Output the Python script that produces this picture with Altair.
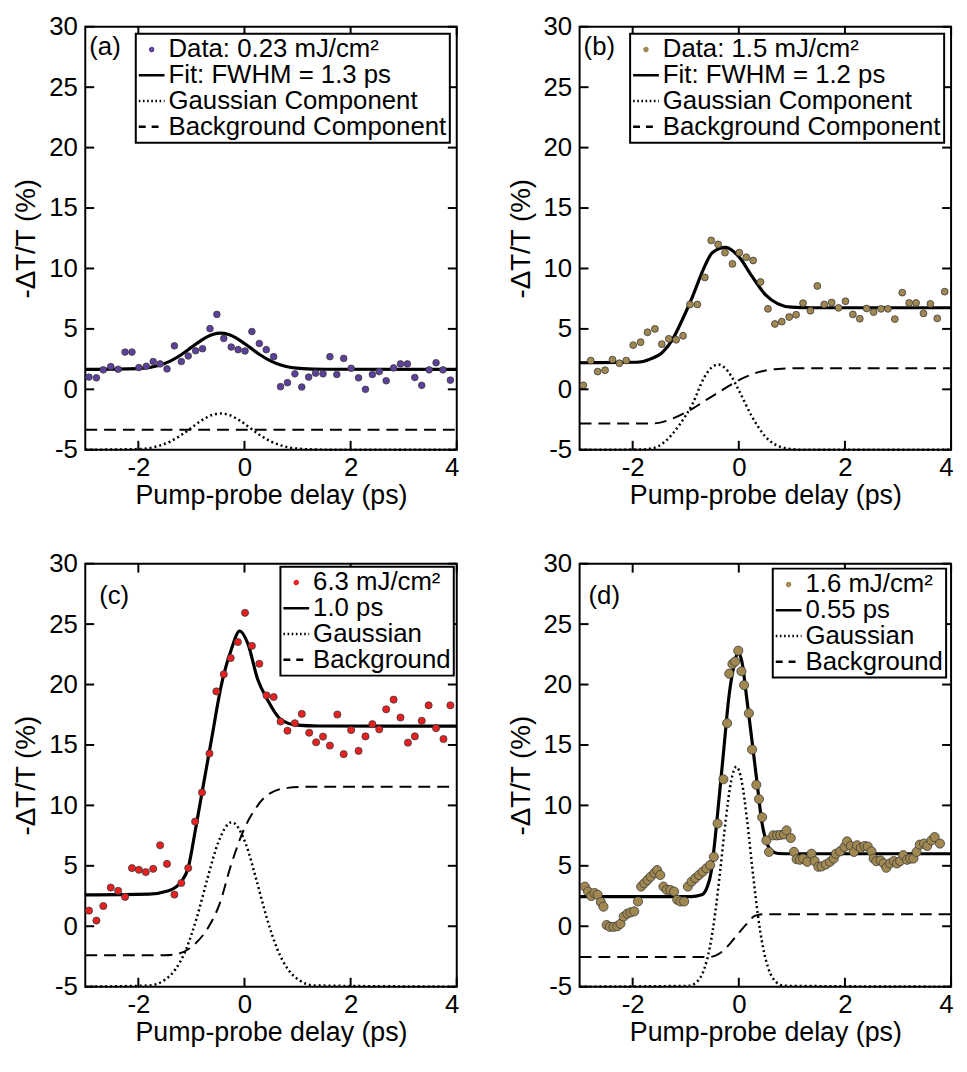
import altair as alt
import pandas as pd

FONT = "Liberation Sans"

# ---------------- panel (a) ----------------
a_x = [-2.93, -2.79, -2.66, -2.52, -2.38, -2.25, -2.12, -1.99, -1.85, -1.72, -1.59, -1.46, -1.32,
       -1.19, -1.06, -0.92, -0.79, -0.65, -0.52, -0.39, -0.25, -0.12, 0.01, 0.14, 0.28, 0.41,
       0.55, 0.68, 0.81, 0.95, 1.08, 1.21, 1.34, 1.48, 1.61, 1.74, 1.87, 2.01, 2.15, 2.28,
       2.41, 2.54, 2.67, 2.81, 2.94, 3.07, 3.21, 3.34, 3.48, 3.61, 3.74, 3.88]
a_y = [1.01, 0.95, 1.61, 1.88, 1.66, 3.08, 3.08, 1.80, 1.91, 2.30, 2.10, 1.69, 3.60,
       2.30, 2.76, 3.19, 3.36, 5.02, 6.20, 4.21, 3.50, 3.28, 3.17, 4.78, 3.79, 3.28,
       2.70, 0.22, 0.55, 1.28, 0.19, 1.01, 1.34, 1.28, 2.70, 1.23, 2.56, 1.74, 0.95, 0.00,
       1.23, 1.47, 0.71, 1.77, 2.10, 2.10, 0.98, 0.33, 1.61, 2.20, 1.61, 0.76]
a_curve_x = [-3, -2.0, -1.6, -1.4, -1.2, -1.0, -0.8, -0.6, -0.45, -0.3, -0.1, 0.1, 0.3, 0.5, 0.7, 1.1, 1.5, 4]
a_fit_y = [1.65, 1.71, 1.99, 2.33, 2.84, 3.47, 4.10, 4.54, 4.65, 4.54, 4.10, 3.47, 2.84, 2.33, 1.99, 1.71, 1.66, 1.65]
a_gauss_y = [-5, -4.94, -4.66, -4.32, -3.81, -3.18, -2.55, -2.11, -2.0, -2.11, -2.55, -3.18, -3.81, -4.32,
             -4.66, -4.94, -4.99, -5]
a_bg_x = [-3, 4]
a_bg_y = [-3.35, -3.35]
a_names = ["Data: 0.23 mJ/cm²", "Fit: FWHM = 1.3 ps", "Gaussian Component", "Background Component"]

# ---------------- panel (b) ----------------
b_x = [-2.93, -2.79, -2.66, -2.52, -2.38, -2.25, -2.12, -1.99, -1.85, -1.72, -1.58, -1.45, -1.32,
       -1.18, -1.05, -0.92, -0.78, -0.64, -0.52, -0.39, -0.26, -0.12, 0.01, 0.14, 0.27, 0.41,
       0.55, 0.68, 0.81, 0.95, 1.08, 1.21, 1.35, 1.48, 1.61, 1.75, 1.88, 2.01, 2.15, 2.28,
       2.41, 2.54, 2.68, 2.81, 2.94, 3.08, 3.21, 3.34, 3.48, 3.61, 3.74, 3.88]
b_y = [0.33, 2.38, 1.47, 1.58, 2.46, 2.16, 2.38, 3.66, 3.90, 4.72, 5.00, 3.74, 4.18,
       4.10, 4.43, 7.02, 7.02, 9.26, 12.32, 11.99, 11.31, 10.38, 11.31, 10.93, 10.66, 8.88,
       6.66, 5.41, 5.60, 5.98, 6.17, 7.13, 6.50, 8.55, 7.02, 7.18, 6.74, 7.29, 6.20, 5.84,
       6.69, 6.39, 6.66, 6.66, 5.81, 8.00, 7.15, 7.15, 6.28, 7.07, 5.87, 8.08]
b_fit_x = [-3, -1.92, -1.67, -1.43, -1.24, -1.06, -0.87, -0.68, -0.50, -0.25, 0.0, 0.25, 0.5, 0.74, 0.99, 1.4, 4]
b_fit_y = [2.2, 2.24, 2.5, 3.1, 4.2, 5.8, 7.7, 9.8, 11.3, 11.75, 10.98, 9.34, 7.84, 7.07, 6.8, 6.75, 6.75]
b_gauss_x = [-3, -1.86, -1.6, -1.43, -1.12, -0.87, -0.65, -0.52, -0.39, -0.26, -0.15, 0.0, 0.25, 0.5, 0.87, 1.2, 4]
b_gauss_y = [-5, -4.98, -4.85, -4.46, -2.95, -1.18, 1.0, 1.77, 2.05, 1.77, 1.15, -0.08, -2.27, -3.9, -4.86, -5, -5]
b_bg_x = [-3, -1.61, -1.24, -0.87, -0.62, -0.37, -0.12, 0.12, 0.37, 0.74, 1.24, 4]
b_bg_y = [-2.82, -2.82, -2.41, -1.59, -0.9, -0.22, 0.46, 1.01, 1.42, 1.69, 1.75, 1.75]
b_names = ["Data: 1.5 mJ/cm²", "Fit: FWHM = 1.2 ps", "Gaussian Component", "Background Component"]

# ---------------- panel (c) ----------------
c_x = [-2.93, -2.79, -2.66, -2.52, -2.38, -2.25, -2.12, -1.99, -1.86, -1.72, -1.59, -1.46, -1.32,
       -1.19, -1.06, -0.93, -0.80, -0.66, -0.53, -0.39, -0.26, -0.125, 0.01, 0.14, 0.28, 0.415,
       0.55, 0.68, 0.81, 0.95, 1.08, 1.22, 1.35, 1.48, 1.61, 1.75, 1.87, 2.01, 2.15, 2.28,
       2.41, 2.54, 2.67, 2.81, 2.94, 3.08, 3.21, 3.34, 3.47, 3.61, 3.75, 3.88]
c_y = [1.29, 0.47, 1.67, 3.20, 2.93, 2.43, 4.81, 4.67, 4.48, 4.75, 6.70, 5.16, 2.62,
       3.58, 4.81, 8.66, 11.07, 14.29, 19.43, 20.85, 22.19, 23.52, 25.93, 23.20, 21.72, 19.10,
       18.97, 16.94, 16.18, 16.80, 17.57, 16.01, 15.22, 15.69, 14.95, 17.52, 14.24, 16.23, 14.51, 15.71,
       16.72, 16.29, 17.95, 18.75, 17.27, 15.19, 15.71, 17.00, 18.28, 16.39, 15.49, 18.28]
c_fit_x = [-3, -1.8, -1.43, -1.18, -1.06, -0.93, -0.80, -0.62, -0.44, -0.25, -0.09, 0.06, 0.25, 0.43, 0.68, 0.99, 1.4, 4]
c_fit_y = [2.6, 2.66, 2.93, 3.75, 4.84, 7.84, 11.07, 15.49, 19.87, 22.87, 24.43, 23.42, 20.41, 18.77, 17.13,
           16.64, 16.57, 16.56]
c_gauss_x = [-3, -1.8, -1.5, -1.3, -1.1, -0.9, -0.7, -0.5, -0.24, 0.02, 0.22, 0.42, 0.62, 0.82, 1.02, 1.32, 4]
c_gauss_y = [-5, -4.9, -4.43, -3.56, -1.9, 0.69, 3.91, 6.87, 8.6, 6.87, 3.91, 0.69, -1.9, -3.56, -4.43, -4.9, -5]
c_bg_x = [-3, -1.5, -1.24, -0.93, -0.68, -0.47, -0.25, 0, 0.19, 0.43, 0.81, 1.3, 4]
c_bg_y = [-2.4, -2.4, -2.26, -1.45, -0.08, 1.83, 5.11, 8.11, 9.62, 10.85, 11.45, 11.55, 11.55]
c_names = ["6.3 mJ/cm²", "1.0 ps", "Gaussian", "Background"]

# ---------------- panel (d) ----------------
d_x = [-2.90, -2.84, -2.78, -2.72, -2.66, -2.60, -2.55, -2.49, -2.43, -2.36, -2.29, -2.23, -2.17,
       -2.10, -2.04, -1.97, -1.90, -1.84, -1.78, -1.72, -1.66, -1.59, -1.54, -1.48, -1.42, -1.36,
       -1.29, -1.22, -1.16, -1.10, -1.03, -0.96, -0.89, -0.82, -0.75, -0.68, -0.61, -0.54, -0.47,
       -0.40, -0.29, -0.22, -0.18, -0.12, -0.07, -0.01, 0.05, 0.10, 0.19, 0.25, 0.33, 0.38, 0.44,
       0.52, 0.57, 0.65, 0.72, 0.78, 0.85, 0.90, 0.98, 1.04, 1.09, 1.15, 1.21, 1.29, 1.37, 1.43,
       1.50, 1.56, 1.64, 1.72, 1.79, 1.83, 1.91, 1.99, 2.04, 2.11, 2.17, 2.23, 2.30, 2.37, 2.43,
       2.50, 2.54, 2.59, 2.67, 2.73, 2.78, 2.85, 2.92, 2.98, 3.04, 3.10, 3.17, 3.23, 3.29, 3.35,
       3.41, 3.49, 3.55, 3.63, 3.69, 3.79]
d_y = [3.28, 2.87, 2.50, 2.75, 2.60, 2.00, 1.62, 0.10, -0.05, -0.05, 0.00, 0.20, 0.80,
       1.04, 1.15, 1.23, 2.05, 3.28, 3.56, 3.83, 4.10, 4.40, 4.65, 4.24, 3.28, 3.01,
       3.00, 2.87, 2.19, 2.05, 2.05, 3.28, 3.69, 3.97, 4.24, 4.51, 4.79, 5.06, 5.74,
       8.50, 12.16, 16.80, 20.90, 21.70, 21.90, 22.80, 21.10, 19.95, 17.62, 14.62, 11.70, 10.52, 9.02,
       7.10, 6.15, 7.52, 7.52, 7.55, 7.60, 7.93, 7.30, 6.15, 5.55, 5.50, 5.60, 5.33, 6.00, 5.39,
       4.92, 4.95, 5.11, 5.33, 5.60, 6.00, 6.20, 6.56, 7.02, 6.64, 6.15, 6.70, 6.48, 6.64, 6.60,
       6.20, 5.60, 5.39, 5.45, 5.20, 4.84, 5.20, 5.39, 5.20, 5.39, 5.88, 5.50, 5.60, 5.60, 6.15,
       6.75, 6.84, 6.64, 7.10, 7.38, 6.84]
d_fit_x = [-3, -0.9, -0.7, -0.6, -0.52, -0.47, -0.37, -0.28, -0.19, -0.09, -0.01, 0.06, 0.15, 0.25, 0.34,
           0.43, 0.53, 0.62, 0.74, 1.0, 4]
d_fit_y = [2.45, 2.45, 2.6, 3.2, 4.5, 6.3, 10.66, 14.75, 18.85, 21.59, 22.62, 21.86, 18.85, 15.3, 12.02,
           8.75, 6.84, 6.25, 6.02, 6.0, 6.0]
d_gauss_x = [-3, -0.945, -0.795, -0.645, -0.545, -0.445, -0.345, -0.245, -0.145, -0.045, 0.055, 0.155,
             0.255, 0.355, 0.455, 0.555, 0.705, 0.855, 4]
d_gauss_y = [-5, -4.93, -4.62, -3.46, -1.72, 1.08, 4.81, 8.83, 12.0, 13.2, 12.0, 8.83, 4.81, 1.08, -1.72,
             -3.46, -4.62, -4.93, -5]
d_bg_x = [-3, -0.6, -0.45, -0.3, -0.15, 0, 0.15, 0.3, 0.45, 4]
d_bg_y = [-2.55, -2.55, -2.45, -2.05, -1.35, -0.55, 0.2, 0.85, 1.0, 1.0]
d_names = ["1.6 mJ/cm²", "0.55 ps", "Gaussian", "Background"]

x_ticks = [-2, 0, 2, 4]
y_ticks = [-5, 0, 5, 10, 15, 20, 25, 30]

# ---------------- styling / layout ----------------
W, H = 375, 427
TK = 9
XS = alt.Scale(domain=[-3, 4], nice=False, zero=False)
YS = alt.Scale(domain=[-5, 30], nice=False, zero=False)

DOT = "M0.15,0A0.15,0.15,0,1,1,-0.15,0A0.15,0.15,0,1,1,0.15,0Z"
SEG = "M-1.3,0L1.3,0"

AX = alt.Axis(orient="bottom", values=x_ticks, title="Pump-probe delay (ps)", ticks=False,
              domain=False, grid=False, labelExpr="'' + datum.value", labelFlush=True,
              labelFlushOffset=2, labelPadding=5, titlePadding=2, titleFontSize=27)
AY = alt.Axis(orient="left", values=y_ticks, title="-ΔT/T (%)", ticks=False, domain=False,
              grid=False, labelExpr="'' + datum.value", labelPadding=8, titlePadding=8)


def X(field="x"):
    return alt.X(field + ":Q", scale=XS, axis=AX)


def Y(field="y"):
    return alt.Y(field + ":Q", scale=YS, axis=AY)


def curve(xv, yv, width, dash):
    df = pd.DataFrame({"x": xv, "y": yv})
    kw = dict(color="black", strokeWidth=width, interpolate="monotone")
    if dash:
        kw["strokeDash"] = dash
    return alt.Chart(df).mark_line(**kw).encode(x=X(), y=Y())


def tick_layers():
    xt = pd.DataFrame({"x": x_ticks})
    yt = pd.DataFrame({"y": y_ticks})
    rk = dict(color="black", strokeWidth=2)
    bottom = alt.Chart(xt).mark_rule(**rk).encode(x=X(), y=alt.value(H), y2=alt.value(H - TK))
    top = alt.Chart(xt).mark_rule(**rk).encode(x=X(), y=alt.value(0), y2=alt.value(TK))
    left = alt.Chart(yt).mark_rule(**rk).encode(y=Y(), x=alt.value(0), x2=alt.value(TK))
    right = alt.Chart(yt).mark_rule(**rk).encode(y=Y(), x=alt.value(W), x2=alt.value(W - TK))
    return [bottom, top, left, right]


def panel(tag, tag_pos, px, py, color, size, names, fx, fy, gx, gy, bx, by, loff):
    bg = curve(bx, by, 2, [12, 7])
    ga = curve(gx, gy, 2.5, [2, 3])
    fit = curve(fx, fy, 3.2, None)
    pts = alt.Chart(pd.DataFrame({"x": px, "y": py})).mark_circle(
        size=size, color=color, opacity=1, stroke="#3a3a3a", strokeWidth=0.8
    ).encode(x=X(), y=Y())

    leg = alt.Legend(title=None, orient="top-right", offset=loff, fillColor="white",
                     strokeColor="black", padding=3, cornerRadius=0, labelFont=FONT,
                     labelFontSize=26, labelColor="black", symbolSize=400, symbolStrokeWidth=2.5,
                     symbolOpacity=1, rowPadding=0, labelOffset=4, labelLimit=0)
    ldf = pd.DataFrame({"s": names})
    legend_layer = alt.Chart(ldf).mark_point(filled=False, opacity=0).encode(
        color=alt.Color("s:N", scale=alt.Scale(domain=names, range=[color, "black", "black", "black"]),
                        legend=leg),
        shape=alt.Shape("s:N", scale=alt.Scale(domain=names, range=[DOT, SEG, SEG, SEG]), legend=leg),
        strokeDash=alt.StrokeDash("s:N", scale=alt.Scale(domain=names,
                                  range=[[1, 0], [1, 0], [1.6, 2.6], [7, 6]]), legend=leg),
    )
    lab = alt.Chart(pd.DataFrame({"t": [tag]})).mark_text(
        align="left", baseline="middle", font=FONT, fontSize=26, color="black"
    ).encode(x=alt.value(tag_pos[0]), y=alt.value(tag_pos[1]), text="t:N")

    return alt.layer(bg, ga, fit, pts, *tick_layers(), legend_layer, lab).properties(width=W, height=H)


pa = panel("(a)", (4, 21), a_x, a_y, "#5D409B", 45, a_names, a_curve_x, a_fit_y, a_curve_x, a_gauss_y,
           a_bg_x, a_bg_y, 7)
pb = panel("(b)", (4, 21), b_x, b_y, "#A08850", 48, b_names, b_fit_x, b_fit_y, b_gauss_x, b_gauss_y,
           b_bg_x, b_bg_y, 7)
pc = panel("(c)", (14, 33), c_x, c_y, "#E82020", 52, c_names, c_fit_x, c_fit_y, c_gauss_x, c_gauss_y,
           c_bg_x, c_bg_y, 3)
pd_ = panel("(d)", (9, 33), d_x, d_y, "#A08850", 85, d_names, d_fit_x, d_fit_y, d_gauss_x, d_gauss_y,
            d_bg_x, d_bg_y, 5)

chart = alt.concat(
    pa, pb, pc, pd_, columns=2, spacing={"row": 115, "column": 124}, bounds="flush"
).resolve_scale(
    color="independent", shape="independent", strokeDash="independent"
).properties(
    padding={"left": 4, "top": 0, "right": 0, "bottom": 0}
).configure(font=FONT).configure_view(
    stroke="black", strokeWidth=2
).configure_axis(
    labelFont=FONT, titleFont=FONT, labelFontSize=26, titleFontSize=28, titleFontWeight="normal",
    labelColor="black", titleColor="black"
).configure_legend(strokeWidth=2)

chart.save("out.html", embed_options={"renderer": "svg", "actions": False})
